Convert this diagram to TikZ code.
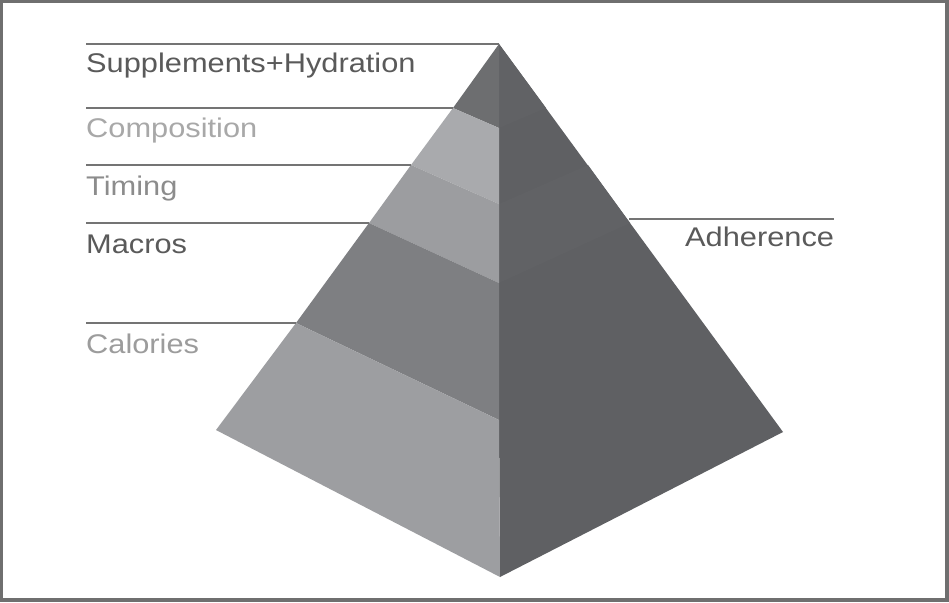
\documentclass[tikz,border=0pt]{standalone}
\usepackage{fontspec}
\newfontfamily\lblfont[FakeStretch=1.14]{Liberation Sans}
\definecolor{frameC}{HTML}{6F6F6F}
\definecolor{lineC}{HTML}{747474}
\definecolor{topC}{HTML}{6D6E70}
\definecolor{compC}{HTML}{A9AAAD}
\definecolor{timC}{HTML}{9C9DA0}
\definecolor{macC}{HTML}{7E7F82}
\definecolor{calC}{HTML}{9D9EA1}
\definecolor{rightC}{HTML}{5F6063}
\definecolor{rightD}{HTML}{616265}
\definecolor{txtDark}{HTML}{5A5A5A}
\definecolor{txtMid}{HTML}{8C8C8C}
\definecolor{txtLight}{HTML}{A8A8A8}
\definecolor{txtCal}{HTML}{9C9C9C}
\begin{document}
\begin{tikzpicture}[x=1pt,y=-1pt,
  lbl/.style={anchor=base west,inner sep=0pt,font=\lblfont\fontsize{27}{30}\selectfont},
  leader/.style={draw=lineC,line width=2pt}]
\useasboundingbox (0,0) rectangle (949,602);
\fill[frameC] (0,0) rectangle (949,602);
\fill[white] (3,3) rectangle (945,598);
% key points
\coordinate (A) at (499,44);
\coordinate (L) at (216,430);
\coordinate (B) at (500,577);
\coordinate (R) at (783,432);
\coordinate (p1) at (453,108);
\coordinate (p2) at (411,165);
\coordinate (p3) at (369,223);
\coordinate (p4) at (296,323);
\coordinate (c1) at (499,128);
\coordinate (c2) at (499,204);
\coordinate (c3) at (499,283);
\coordinate (c4) at (499,420);
\coordinate (r1) at (546,108);
\coordinate (r2) at (588,165);
\coordinate (r3) at (630,223);
\coordinate (r4) at (703,323);
% right face
\fill[rightC] (A) -- (R) -- (B) -- (c4) -- cycle;
\fill[rightD] (A) -- (r1) -- (c1) -- cycle;
\fill[rightD] (r2) -- (r3) -- (c3) -- (c2) -- cycle;
% left face bands
\fill[topC] (A) -- (p1) -- (c1) -- cycle;
\fill[compC] (p1) -- (p2) -- (c2) -- (c1) -- cycle;
\fill[timC] (p2) -- (p3) -- (c3) -- (c2) -- cycle;
\fill[macC] (p3) -- (p4) -- (c4) -- (c3) -- cycle;
\fill[calC] (p4) -- (L) -- (B) -- (c4) -- cycle;
% leader lines
\coordinate (s0) at (86,44);
\coordinate (s1) at (86,108);
\coordinate (s2) at (86,165);
\coordinate (s3) at (86,223);
\coordinate (s4) at (86,323);
\coordinate (ae) at (834,219);
\coordinate (as) at (629,219);
\draw[leader] (s0) -- (A);
\draw[leader] (s1) -- (p1);
\draw[leader] (s2) -- (p2);
\draw[leader] (s3) -- (p3);
\draw[leader] (s4) -- (p4);
\draw[leader] (as) -- (ae);
% labels
\node[lbl,text=txtDark] (t0) at (86,72.5) {Supplements+Hydration};
\node[lbl,text=txtLight] (t1) at (86,137) {Composition};
\node[lbl,text=txtMid] (t2) at (86,195) {Timing};
\node[lbl,text=txtDark] (t3) at (86,253) {Macros};
\node[lbl,text=txtCal] (t4) at (86,353) {Calories};
\node[lbl,text=txtDark] (t5) at (685,246) {Adherence};
\end{tikzpicture}
\end{document}
